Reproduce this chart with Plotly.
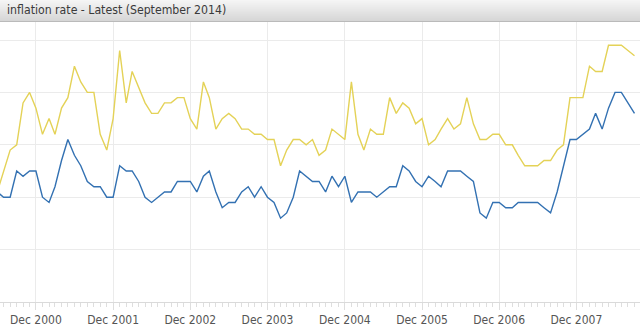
import pandas as pd
import plotly.graph_objects as go

# Monthly observations, Jun 2000 .. Sep 2008
months = pd.date_range("2000-06-01", periods=100, freq="MS")

yellow_series = [
    # 2000 Jun-Dec
    2.1, 2.5, 2.9, 3.0, 3.8, 4.0, 3.7,
    # 2001
    3.2, 3.5, 3.2, 3.7, 3.9, 4.5, 4.2, 4.0, 4.0, 3.2, 2.9, 3.5,
    # 2002
    4.8, 3.8, 4.4, 4.1, 3.8, 3.6, 3.6, 3.8, 3.8, 3.9, 3.9, 3.5,
    # 2003
    3.3, 4.2, 3.9, 3.3, 3.5, 3.6, 3.5, 3.3, 3.3, 3.2, 3.2, 3.1,
    # 2004
    3.1, 2.6, 2.9, 3.1, 3.1, 3.0, 3.1, 2.8, 2.9, 3.3, 3.2, 3.1,
    # 2005
    4.2, 3.2, 2.9, 3.3, 3.2, 3.2, 3.9, 3.6, 3.8, 3.7, 3.4, 3.5,
    # 2006
    3.0, 3.1, 3.3, 3.5, 3.3, 3.4, 3.9, 3.4, 3.1, 3.1, 3.2, 3.2,
    # 2007
    3.0, 3.0, 2.8, 2.6, 2.6, 2.6, 2.7, 2.7, 2.9, 3.0, 3.9, 3.9,
    # 2008 Jan-Sep
    3.9, 4.5, 4.4, 4.4, 4.9, 4.9, 4.9, 4.8, 4.7,
]

blue_series = [
    # 2000 Jun-Dec
    2.1, 2.0, 2.0, 2.5, 2.4, 2.5, 2.5,
    # 2001
    2.0, 1.9, 2.2, 2.7, 3.1, 2.8, 2.6, 2.3, 2.2, 2.2, 2.0, 2.0,
    # 2002
    2.6, 2.5, 2.5, 2.3, 2.0, 1.9, 2.0, 2.1, 2.1, 2.3, 2.3, 2.3,
    # 2003
    2.1, 2.4, 2.5, 2.1, 1.8, 1.9, 1.9, 2.1, 2.2, 2.0, 2.2, 2.0,
    # 2004
    1.9, 1.6, 1.7, 2.0, 2.5, 2.4, 2.3, 2.3, 2.1, 2.4, 2.2, 2.4,
    # 2005
    1.9, 2.1, 2.1, 2.1, 2.0, 2.1, 2.2, 2.2, 2.6, 2.5, 2.3, 2.2,
    # 2006
    2.4, 2.3, 2.2, 2.5, 2.5, 2.5, 2.4, 2.3, 1.7, 1.6, 1.9, 1.9,
    # 2007
    1.8, 1.8, 1.9, 1.9, 1.9, 1.9, 1.8, 1.7, 2.1, 2.6, 3.1, 3.1,
    # 2008 Jan-Sep
    3.2, 3.3, 3.6, 3.3, 3.7, 4.0, 4.0, 3.8, 3.6,
]

title_text = "inflation rate - Latest (September 2014)"
FONT = "DejaVu Sans Condensed, DejaVu Sans, sans-serif"

fig = go.Figure()
fig.add_trace(go.Scatter(x=months, y=yellow_series, mode="lines",
                         line=dict(color="#e4d257", width=1.4), hoverinfo="skip"))
fig.add_trace(go.Scatter(x=months, y=blue_series, mode="lines",
                         line=dict(color="#3371b2", width=1.4), hoverinfo="skip"))

W, H = 640, 336
T, B = 22, 34
plot_h = H - T - B


def py(p):
    # pixel row -> paper y
    return (H - B - p) / plot_h


shapes = []
bar_h = 21
top_c = (0xf5, 0xf5, 0xf5)
bot_c = (0xd6, 0xd6, 0xd6)
for i in range(bar_h):
    f = i / (bar_h - 1)
    c = tuple(round(top_c[k] + (bot_c[k] - top_c[k]) * f) for k in range(3))
    shapes.append(dict(type="rect", xref="paper", yref="paper", x0=0, x1=1,
                       y0=py(i + 1), y1=py(i), fillcolor="rgb(%d,%d,%d)" % c,
                       line=dict(width=0), layer="above"))
shapes.append(dict(type="line", xref="paper", yref="paper", x0=0, x1=1,
                   y0=py(21.5), y1=py(21.5), line=dict(color="#bababa", width=1),
                   layer="above"))

fig.update_layout(
    width=W, height=H,
    margin=dict(l=0, r=0, t=T, b=B, pad=0),
    paper_bgcolor="white", plot_bgcolor="white",
    showlegend=False,
    shapes=shapes,
    annotations=[dict(text=title_text, xref="paper", yref="paper",
                      x=5 / W, y=py(10.5), xanchor="left", yanchor="middle",
                      showarrow=False,
                      font=dict(family=FONT, size=12.2, color="#3a3a3a"))],
    xaxis=dict(
        type="date", range=["2000-06-14", "2008-09-27"],
        tick0="2000-12-01", dtick="M12", tickformat="%b %Y",
        showgrid=True, gridcolor="#ebebeb", gridwidth=1,
        ticks="outside", ticklen=7, tickcolor="#dedede", tickwidth=1,
        showline=True, linecolor="#dadada", linewidth=1,
        zeroline=False,
        minor=dict(dtick="M1", tick0="2000-12-01", ticks="outside", ticklen=4,
                   tickcolor="#dedede", tickwidth=1, showgrid=False),
        tickfont=dict(family=FONT, size=12, color="#555555"),
        fixedrange=True,
    ),
    yaxis=dict(
        range=[0, (H - B - T) / 52.4], dtick=1, tick0=0,
        showticklabels=False, showgrid=True, gridcolor="#ebebeb", gridwidth=1,
        zeroline=False, showline=False, ticks="", fixedrange=True,
    ),
)

fig.write_html("out.html")
